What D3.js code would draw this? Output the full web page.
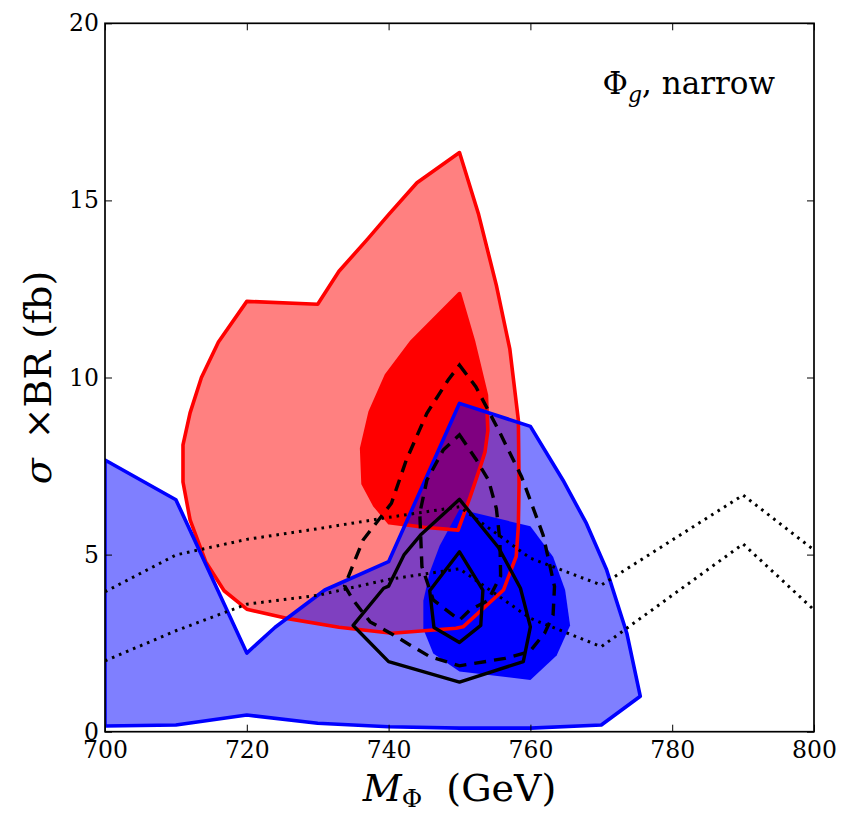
<!DOCTYPE html>
<html><head><meta charset="utf-8">
<script src="https://cdn.jsdelivr.net/npm/d3@7"></script>
<style>
body{margin:0;background:#fff}
svg{display:block}
text{font-family:"DejaVu Serif","Liberation Serif",serif;fill:#000}
</style>
</head><body>
<svg id="chart" width="841" height="814"></svg>
<script>
// ---- data ----
const xDomain = [700, 800];
const yDomain = [0, 20];
const xTicks = [700, 720, 740, 760, 780, 800];
const yTicks = [0, 5, 10, 15, 20];

// red fit, 95% (light) region
const redOuter = [[720,12.15],[730,12.07],[733,13.0],[737,13.9],[740,14.6],[744,15.5],[750,16.35],
  [752.7,14.6],[755.2,12.6],[757.1,10.8],[758.3,8.8],[758.4,7.0],[758.3,5.8],[758.0,4.95],[756.2,4.0],
  [750.5,2.96],[749.5,2.92],[740.5,2.78],[733,2.95],[725.6,3.2],[720,3.46],[716.8,3.98],[714.2,4.8],
  [712,5.98],[711,7.05],[711,8.1],[712,9.0],[713.6,10.0],[716,11.0]];
// red fit, 68% (dark) region
const redInner = [[750,12.37],[752,11.0],[753.8,9.5],[754,8.5],[753.6,7.9],[753.1,7.58],[751.5,6.63],
  [749.8,5.69],[745,5.77],[740.1,5.9],[738,6.4],[736.4,7.0],[736.2,8.0],[737.4,9.03],[739.7,10.07],[743.2,11.0]];
// blue fit, 95% (light) region
const blueOuter = [[700,7.67],[710,6.55],[720,2.22],[724,2.95],[731,4.0],[740,4.8],[750,9.27],[760,8.62],
  [764.6,7.1],[767.9,5.88],[770.75,4.57],[773.6,2.78],[775.5,1.0],[770,0.19],[760,0.1],[750,0.1],
  [740,0.14],[730,0.24],[720,0.47],[710,0.19],[700,0.16]];
// blue fit, 68% (dark) region
const blueInner = [[750,6.28],[760,5.8],[763.2,4.94],[764.9,4.0],[765.6,3.0],[763.7,2.15],[760,1.46],
  [750,1.7],[746.3,2.21],[744.9,2.9],[744.9,3.7],[745.8,4.5],[747.2,5.25]];
// black solid contours
const solidOuter = [[750,6.56],[755.5,5.2],[758.6,4.05],[760,2.96],[759,1.98],[750,1.4],[740,1.98],
  [735,3.0],[739.3,4.05],[740,4.11],[742.2,5.0],[744.5,5.55]];
const solidInner = [[750,5.08],[753.3,4.0],[753,3.0],[750,2.52],[746.4,2.94],[745.8,3.98]];
// black dashed contours
const dashOuter = [[750,10.35],[752.3,9.74],[755.5,8.52],[758.75,7.2],[761.8,5.55],[763.4,4.1],[763.2,3.3],
  [762,2.78],[759.9,2.26],[756.4,2.07],[750,1.86],[745.8,2.12],[743,2.45],[740.7,2.73],[737.4,3.1],
  [735,3.72],[733.8,4.12],[736.4,5.41],[738.2,5.88],[740.4,6.45],[742.5,7.67],[745.4,8.99],[748.4,9.93]];
const dashInner = [[750,8.38],[752.3,7.7],[754.1,7.1],[755.2,6.3],[755.7,5.4],[755.8,4.4],[754,3.7],
  [751.5,3.44],[750,3.15],[746.3,3.72],[744.7,4.66],[744.4,6.17],[745.4,7.1],[747.7,7.95]];
// dotted lines
const dotX = [700,710,720,730,740,750,760,770,780,790,800];
const dotUpper = [3.95,4.99,5.43,5.73,6.05,6.35,4.9,4.14,5.41,6.68,5.13];
const dotLower = [2.0,2.85,3.6,3.85,4.3,4.6,3.2,2.4,3.85,5.3,3.44];

// ---- layout ----
const L = 105, R = 814, T = 23.3, B = 731.7;
const svg = d3.select("#chart");
const x = d3.scaleLinear(xDomain, [L, R]);
const y = d3.scaleLinear(yDomain, [B, T]);

svg.append("defs").append("clipPath").attr("id","clip")
  .append("rect").attr("x",L).attr("y",T).attr("width",R-L).attr("height",B-T);
const g = svg.append("g").attr("clip-path","url(#clip)");

const closed = d3.line().x(d=>x(d[0])).y(d=>y(d[1])).curve(d3.curveLinearClosed);
const open = d3.line().x(d=>x(d[0])).y(d=>y(d[1]));

// fills
g.append("path").attr("d", closed(redOuter)).attr("fill","#ff8080");
g.append("path").attr("d", closed(redInner)).attr("fill","#ff0000");
g.append("path").attr("d", closed(blueOuter)).attr("fill","#0000ff").attr("fill-opacity",0.5);
g.append("path").attr("d", closed(blueInner)).attr("fill","#0000ff");
// outlines
g.append("path").attr("d", closed(redOuter)).attr("fill","none").attr("stroke","#ff0000").attr("stroke-width",3.6).attr("stroke-linejoin","round");
g.append("path").attr("d", closed(redInner)).attr("fill","none").attr("stroke","#ff0000").attr("stroke-width",3.6).attr("stroke-linejoin","round");
g.append("path").attr("d", closed(blueOuter)).attr("fill","none").attr("stroke","#0000ff").attr("stroke-width",3.6).attr("stroke-linejoin","round");

// dotted
[dotUpper, dotLower].forEach(arr => {
  g.append("path").attr("d", open(dotX.map((v,i)=>[v,arr[i]])))
    .attr("fill","none").attr("stroke","#000").attr("stroke-width",3).attr("stroke-dasharray","2.6,5");
});
// dashed
[dashOuter, dashInner].forEach(arr => {
  g.append("path").attr("d", closed(arr)).attr("fill","none").attr("stroke","#000")
    .attr("stroke-width",3.4).attr("stroke-dasharray","12,8");
});
// solid
[solidOuter, solidInner].forEach(arr => {
  g.append("path").attr("d", closed(arr)).attr("fill","none").attr("stroke","#000")
    .attr("stroke-width",3.4).attr("stroke-linejoin","round");
});

// axes
const tl = 7;
const ax = svg.append("g").attr("transform",`translate(0,${B})`)
  .call(d3.axisBottom(x).tickValues(xTicks).tickSize(-tl).tickFormat(d3.format("d")));
ax.selectAll("text").attr("y",26.5).attr("dy",null).style("font-size","23.5px");
svg.append("g").attr("transform",`translate(0,${T})`)
  .call(d3.axisTop(x).tickValues(xTicks).tickSize(-tl).tickFormat(""));
const ay = svg.append("g").attr("transform",`translate(${L},0)`)
  .call(d3.axisLeft(y).tickValues(yTicks).tickSize(-tl).tickPadding(6).tickFormat(d3.format("d")));
ay.selectAll("text").attr("dy","0.32em").style("font-size","23.5px");
svg.append("g").attr("transform",`translate(${R},0)`)
  .call(d3.axisRight(y).tickValues(yTicks).tickSize(-tl).tickFormat(""));
svg.selectAll(".domain").remove();
svg.selectAll(".tick line").attr("stroke","#000").attr("stroke-width",1);
svg.selectAll(".tick text").attr("font-family",null);

// frame
svg.append("rect").attr("x",L).attr("y",T).attr("width",R-L).attr("height",B-T)
  .attr("fill","none").attr("stroke","#000").attr("stroke-width",1.7);

// annotation
const ann = svg.append("text").attr("x",775).attr("y",94).attr("text-anchor","end").style("font-size","31px");
ann.append("tspan").text("Φ");
ann.append("tspan").attr("dy",8).style("font-style","italic").style("font-size","22px").text("g");
ann.append("tspan").attr("dy",-8).text(", narrow");

// x label
const xl = svg.append("text").attr("x",(L+R)/2).attr("y",801).attr("text-anchor","middle").style("font-size","38px");
xl.append("tspan").style("font-style","italic").text("M");
xl.append("tspan").attr("dy",6).style("font-size","25px").text("Φ");
xl.append("tspan").attr("dy",-6).text("\u00a0\u00a0(GeV)");

// y label
const yl = svg.append("text").attr("transform",`translate(51,${(T+B)/2}) rotate(-90)`)
  .attr("text-anchor","middle").style("font-size","38px");
yl.append("tspan").style("font-style","italic").text("σ");
yl.append("tspan").text("\u2002×BR (fb)");
</script>
</body></html>
